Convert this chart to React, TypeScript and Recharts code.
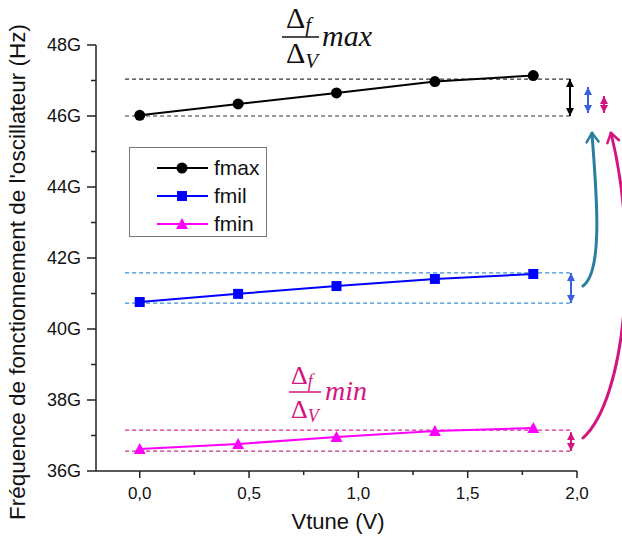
import React from "react";
import { LineChart, Line, XAxis, YAxis, ReferenceLine, Legend } from "recharts";

// Vtune sweep (V) and oscillator frequency (GHz)
const vtune = [0, 0.45, 0.9, 1.35, 1.8];
const fmax = [46.02, 46.34, 46.65, 46.97, 47.14];
const fmil = [40.76, 40.99, 41.21, 41.41, 41.55];
const fmin = [36.62, 36.76, 36.96, 37.13, 37.21];

const xTicks = [0, 0.25, 0.5, 0.75, 1, 1.25, 1.5, 1.75, 2];
const yTicks = [36, 37, 38, 39, 40, 41, 42, 43, 44, 45, 46, 47, 48];

// dashed guide levels (low, high) for each curve
const maxBand = [46.0, 47.04];
const milBand = [40.73, 41.58];
const minBand = [36.56, 37.15];

const data = vtune.map((v, i) => ({ v, fmax: fmax[i], fmil: fmil[i], fmin: fmin[i] }));

const W = 622;
const H = 542;
const X_DOMAIN: [number, number] = [-0.2, 2];
const Y_DOMAIN: [number, number] = [36, 48];
const M = { top: 45, right: 45, left: 36, bottom: 31 };
const Y_W = 60;
const X_H = 40;
const PL = M.left + Y_W;
const PR = W - M.right;
const PT = M.top;
const PB = H - M.bottom - X_H;
const px = (v: number) => PL + ((v - X_DOMAIN[0]) / (X_DOMAIN[1] - X_DOMAIN[0])) * (PR - PL);
const py = (v: number) => PB - ((v - Y_DOMAIN[0]) / (Y_DOMAIN[1] - Y_DOMAIN[0])) * (PB - PT);

const FONT = "Arial, 'Liberation Sans', sans-serif";
const MATH = "'Liberation Serif', 'DejaVu Serif', serif";
const PINK = "#d4147f";

const series = [
  { key: "fmax", color: "#000000", shape: "circle" },
  { key: "fmil", color: "#0000ff", shape: "square" },
  { key: "fmin", color: "#ff00ff", shape: "triangle" },
];

const Mark = ({ cx, cy, shape, color }: any) => {
  if (shape === "square") return <rect x={cx - 5} y={cy - 5} width={10} height={10} fill={color} />;
  if (shape === "triangle")
    return <path d={`M${cx},${cy - 6} L${cx + 6},${cy + 5} L${cx - 6},${cy + 5} Z`} fill={color} />;
  return <circle cx={cx} cy={cy} r={5.5} fill={color} />;
};

const XTick = ({ x, y, payload }: any) => {
  const v = payload.value;
  const major = Math.abs(v * 2 - Math.round(v * 2)) < 1e-6;
  return (
    <g>
      <line x1={x} x2={x} y1={y} y2={y + (major ? 7 : 4)} stroke="#222" strokeWidth={1.5} />
      {major && (
        <text x={x} y={y + 28} textAnchor="middle" fontSize={17} fill="#111" fontFamily={FONT}>
          {v.toFixed(1).replace(".", ",")}
        </text>
      )}
    </g>
  );
};

const YTick = ({ x, y, payload }: any) => {
  const v = payload.value;
  const major = v % 2 === 0;
  return (
    <g>
      <line x1={x - (major ? 9 : 5)} x2={x} y1={y} y2={y} stroke="#222" strokeWidth={1.5} />
      {major && (
        <text x={x - 15} y={y + 6} textAnchor="end" fontSize={18} fill="#111" fontFamily={FONT}>
          {v}G
        </text>
      )}
    </g>
  );
};

const LegendBox = () => (
  <div
    style={{
      width: 138,
      height: 90,
      border: "1px solid #777",
      background: "#fff",
      boxSizing: "border-box",
    }}
  >
    <svg width={136} height={88}>
      {series.map((s, i) => {
        const cy = 20 + i * 28;
        return (
          <g key={s.key}>
            <line x1={27} x2={78} y1={cy} y2={cy} stroke={s.color} strokeWidth={2} />
            <Mark cx={52} cy={cy} shape={s.shape} color={s.color} />
            <text x={84} y={cy + 7} fontSize={21} fontFamily={FONT} fill="#111">
              {s.key}
            </text>
          </g>
        );
      })}
    </svg>
  </div>
);

const guide = (lvl: number, color: string, k: string) => (
  <ReferenceLine
    key={k}
    segment={[
      { x: -0.067, y: lvl },
      { x: 1.97, y: lvl },
    ]}
    stroke={color}
    strokeWidth={1.2}
    strokeDasharray="4 3"
    ifOverflow="visible"
  />
);

const DoubleArrow = ({ x, y1, y2, color, id }: any) => (
  <line x1={x} x2={x} y1={y1} y2={y2} stroke={color} strokeWidth={2} markerStart={`url(#${id})`} markerEnd={`url(#${id})`} />
);

const Overlay = () => (
  <svg width={W} height={H} style={{ position: "absolute", left: 0, top: 0, pointerEvents: "none", overflow: "hidden" }}>
    <defs>
      {[
        ["tk", "#000"],
        ["tb", "#3b5fe0"],
        ["tp", PINK],
      ].map(([id, c]) => (
        <marker key={id} id={id} viewBox="0 0 10 10" refX={10} refY={5} markerWidth={8} markerHeight={8} markerUnits="userSpaceOnUse" orient="auto-start-reverse">
          <path d="M0,0 L10,5 L0,10 Z" fill={c} />
        </marker>
      ))}
      {[
        ["ct", "#2a7e9f"],
        ["cp", PINK],
      ].map(([id, c]) => (
        <marker key={id} id={id} viewBox="0 0 10 12" refX={9} refY={6} markerWidth={10} markerHeight={12} markerUnits="userSpaceOnUse" orient="auto" overflow="visible">
          <path d="M0,0 L9,6 L0,12" fill="none" stroke={c} strokeWidth={2.5} strokeLinecap="round" strokeLinejoin="round" />
        </marker>
      ))}
    </defs>

    {/* y axis title */}
    <text
      transform={`translate(25, 272) rotate(-90)`}
      textAnchor="middle"
      fontSize={22.5}
      fontFamily={FONT}
      fill="#111"
    >
      Fréquence de fonctionnement de l'oscillateur (Hz)
    </text>

    {/* range arrows */}
    <DoubleArrow x={570} y1={py(maxBand[1])} y2={py(maxBand[0])} color="#000" id="tk" />
    <DoubleArrow x={588} y1={87} y2={113} color="#3b5fe0" id="tb" />
    <DoubleArrow x={604} y1={96} y2={113} color={PINK} id="tp" />
    <DoubleArrow x={571} y1={py(milBand[1])} y2={py(milBand[0])} color="#3b5fe0" id="tb" />
    <DoubleArrow x={571} y1={py(minBand[1]) + 2} y2={py(minBand[0])} color={PINK} id="tp" />

    <path d="M583,286 C605,270 595,180 592,133" fill="none" stroke="#2a7e9f" strokeWidth={3} strokeLinecap="round" markerEnd="url(#ct)" />
    <path d="M583,438 C625,400 640,250 611,133" fill="none" stroke={PINK} strokeWidth={3} strokeLinecap="round" markerEnd="url(#cp)" />

    {/* delta f / delta V max */}
    <g fontFamily={MATH} fill="#111">
      <text x={286} y={28} fontSize={30}>
        Δ<tspan fontSize={21} fontStyle="italic" dy={4}>f</tspan>
      </text>
      <line x1={282} x2={319} y1={37} y2={37} stroke="#111" strokeWidth={1.5} />
      <text x={286} y={63} fontSize={30}>
        Δ<tspan fontSize={21} fontStyle="italic" dy={5}>V</tspan>
      </text>
      <text x={322} y={46} fontSize={30} fontStyle="italic">
        max
      </text>
    </g>

    {/* delta f / delta V min */}
    <g fontFamily={MATH} fill={PINK}>
      <text x={291} y={384} fontSize={26}>
        Δ<tspan fontSize={18} fontStyle="italic" dy={3}>f</tspan>
      </text>
      <line x1={289} x2={321} y1={392} y2={392} stroke={PINK} strokeWidth={1.5} />
      <text x={291} y={418} fontSize={26}>
        Δ<tspan fontSize={18} fontStyle="italic" dy={4}>V</tspan>
      </text>
      <text x={325} y={400} fontSize={28} fontStyle="italic">
        min
      </text>
    </g>

    {/* x axis title */}
    <text x={338} y={529} textAnchor="middle" fontSize={22} fontFamily={FONT} fill="#111">
      Vtune (V)
    </text>
  </svg>
);

export default function App() {
  return (
    <div style={{ position: "absolute", left: 0, top: 0, width: W, height: H, background: "#fff", fontFamily: FONT }}>
      <LineChart width={W} height={H} data={data} margin={M}>
        <XAxis
          type="number"
          dataKey="v"
          domain={X_DOMAIN}
          ticks={xTicks}
          interval={0}
          tick={<XTick />}
          tickLine={false}
          tickSize={0}
          tickMargin={0}
          height={X_H}
          axisLine={{ stroke: "#222", strokeWidth: 1.5 }}
          allowDataOverflow
        />
        <YAxis
          type="number"
          domain={Y_DOMAIN}
          ticks={yTicks}
          interval={0}
          tick={<YTick />}
          tickLine={false}
          tickSize={0}
          tickMargin={0}
          width={Y_W}
          axisLine={{ stroke: "#222", strokeWidth: 1.5 }}
          allowDataOverflow
        />
        {guide(maxBand[1], "#333", "g1")}
        {guide(maxBand[0], "#333", "g2")}
        {guide(milBand[1], "#3a8fd9", "g3")}
        {guide(milBand[0], "#3a8fd9", "g4")}
        {guide(minBand[1], "#e0209a", "g5")}
        {guide(minBand[0], "#c0307f", "g6")}
        {series.map((s) => (
          <Line
            key={s.key}
            dataKey={s.key}
            stroke={s.color}
            strokeWidth={2}
            isAnimationActive={false}
            dot={(p: any) => <Mark key={`${s.key}-${p.index}`} cx={p.cx} cy={p.cy} shape={s.shape} color={s.color} />}
            activeDot={false}
          />
        ))}
        <Legend
          layout="vertical"
          align="center"
          verticalAlign="middle"
          content={<LegendBox />}
          wrapperStyle={{ left: 129, top: 147, width: 138 }}
        />
      </LineChart>
      <Overlay />
    </div>
  );
}
